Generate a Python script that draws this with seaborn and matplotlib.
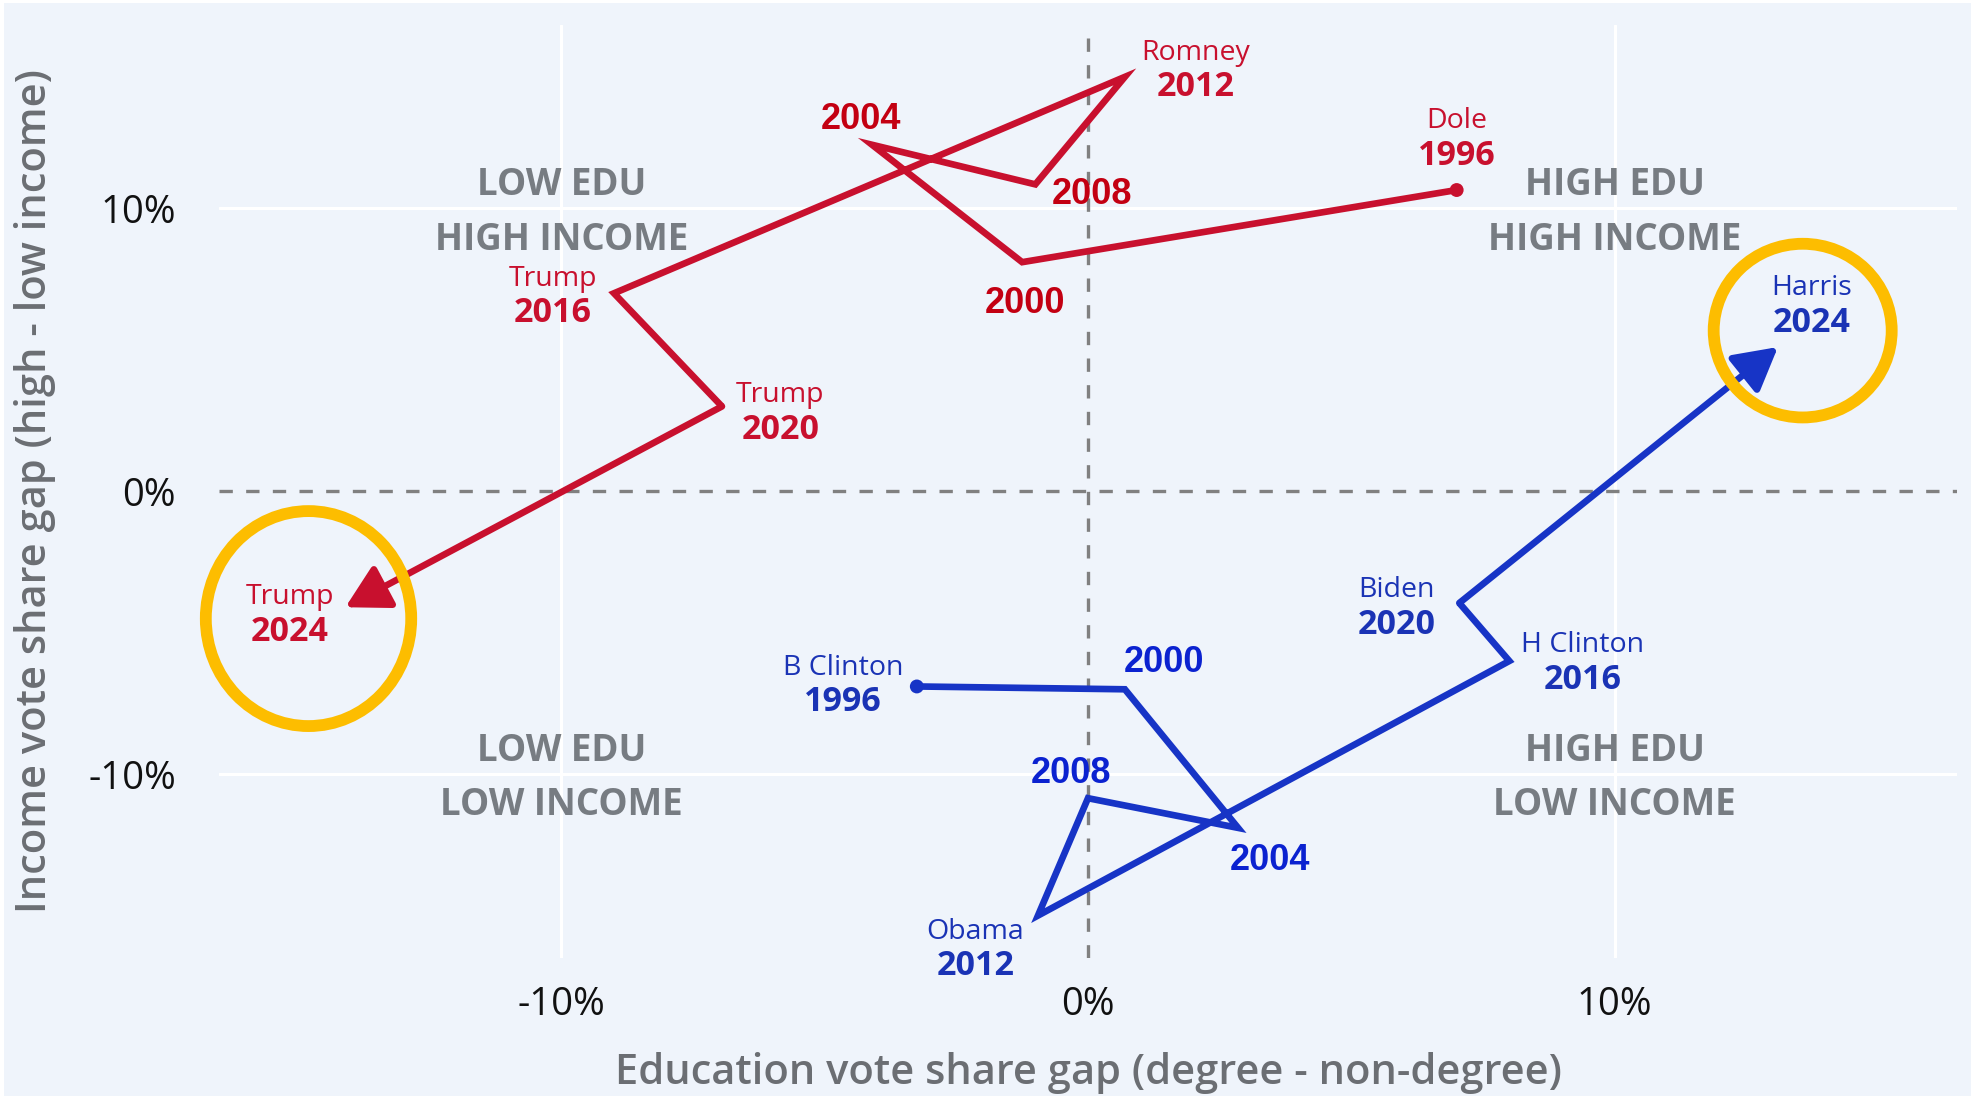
import matplotlib
matplotlib.use('Agg')
import matplotlib.pyplot as plt
from matplotlib.patches import Ellipse, Rectangle
from matplotlib.ticker import FuncFormatter
import pandas as pd
import seaborn as sns

# ---- data: vote share gaps in percentage points ----
years = [1996, 2000, 2004, 2008, 2012, 2016, 2020, 2024]

rep_edu = [7.0, -1.25, -4.1, -1.0, 0.7, -9.0, -6.95, -14.1]
rep_inc = [10.65, 8.1, 12.25, 10.85, 14.65, 7.0, 3.0, -4.1]
rep_names = ['Dole', '', '', '', 'Romney', 'Trump', 'Trump', 'Trump']

dem_edu = [-3.25, 0.7, 2.85, 0.0, -0.95, 8.0, 7.05, 13.1]
dem_inc = [-6.9, -7.0, -11.9, -10.85, -15.0, -6.0, -3.95, 5.1]
dem_names = ['B Clinton', '', '', '', 'Obama', 'H Clinton', 'Biden', 'Harris']

tick_vals = [-10, 0, 10]

quadrant_text = [('LOW EDU', 'HIGH INCOME'), ('HIGH EDU', 'HIGH INCOME'),
                 ('LOW EDU', 'LOW INCOME'), ('HIGH EDU', 'LOW INCOME')]

# ---- layout / style ----
quadrant_at = [(-10, 10), (10, 10), (-10, -10), (10, -10)]
# offset (points) of the year label from its point; name sits above it
rep_off = [(0, 24.5), (2, -30), (-8, 18), (41, -7), (51, -7.5), (-44, -14.5), (42, -17), (-40, -17.5)]
dem_off = [(-53, -11.5), (28, 19.5), (23, -23.5), (-12, 18), (-45, -36.5), (53, -13.5), (-45, -15.5), (24, 17.5)]
# yellow highlight rings: centre x, centre y, width, height (data units)
rings = [(-14.8, -4.5, 3.9, 7.6), (13.57, 5.68, 3.38, 6.14)]

RED, RED_YR = '#c8102e', '#c30012'
BLUE, BLUE_TXT, BLUE_YR = '#1734c6', '#1a33b5', '#0b22d0'
GRAY_Q = '#777c82'
BG = '#eff4fb'
RING = '#fdbd00'
FONT = 'Open Sans'

sns.set_theme(style='white')
plt.rcParams['font.family'] = [FONT, 'DejaVu Sans']

df = pd.DataFrame({
    'year': years * 2,
    'edu': rep_edu + dem_edu,
    'inc': rep_inc + dem_inc,
    'party': ['R'] * len(years) + ['D'] * len(years),
})
palette = {'R': RED, 'D': BLUE}

fig = plt.figure(figsize=(19.71, 10.96), dpi=100)
fig.patch.set_facecolor(BG)
ax = fig.add_axes([0.1111, 0.1259, 0.8818, 0.8517])
ax.set_facecolor(BG)

# grid
for v in [-10, 10]:
    ax.axvline(v, color='white', lw=2.2, zorder=0)
    ax.axhline(v, color='white', lw=2.2, zorder=0)
ax.axvline(0, color='#808080', lw=2.4, ls=(0, (4, 4)), zorder=1)
ax.axhline(0, color='#808080', lw=2.4, ls=(0, (4, 4)), zorder=1)

# quadrant labels
for (top, bottom), (qx, qy) in zip(quadrant_text, quadrant_at):
    ax.annotate(top, (qx, qy), xytext=(0, 16.5), textcoords='offset points',
                ha='center', va='center', fontsize=26.5, fontweight='bold', color=GRAY_Q, zorder=2)
    ax.annotate(bottom, (qx, qy), xytext=(0, -22.5), textcoords='offset points',
                ha='center', va='center', fontsize=26.5, fontweight='bold', color=GRAY_Q, zorder=2)

# paths up to 2020, final leg drawn as an arrow
body = df[df['year'] < years[-1]]
sns.lineplot(data=body, x='edu', y='inc', hue='party', palette=palette, sort=False,
             estimator=None, lw=4.8, legend=False, ax=ax, zorder=3,
             solid_joinstyle='miter', solid_capstyle='butt')
sns.scatterplot(data=df[df['year'] == years[0]], x='edu', y='inc', hue='party',
                palette=palette, s=100, edgecolor='none', legend=False, ax=ax, zorder=4)

for party, col in palette.items():
    sub = df[df['party'] == party]
    p0 = (sub['edu'].iloc[-2], sub['inc'].iloc[-2])
    p1 = (sub['edu'].iloc[-1], sub['inc'].iloc[-1])
    ax.annotate('', xy=p1, xytext=p0,
                arrowprops=dict(arrowstyle='-|>,head_length=1.3,head_width=0.72',
                                mutation_scale=20, lw=4.8, color=col,
                                shrinkA=0, shrinkB=0),
                zorder=3)

# point labels
def label_points(edu, inc, names, offs, name_col, yr_col):
    for x, y, yr, nm, (dx, dy) in zip(edu, inc, years, names, offs):
        if nm:
            ax.annotate(nm, (x, y), xytext=(dx, dy + 25), textcoords='offset points',
                        ha='center', va='center', fontsize=20.5, fontweight='medium',
                        color=name_col, zorder=6)
            ax.annotate(str(yr), (x, y), xytext=(dx, dy), textcoords='offset points',
                        ha='center', va='center', fontsize=24.5, fontweight='bold',
                        color=name_col, zorder=6)
        else:
            ax.annotate(str(yr), (x, y), xytext=(dx, dy), textcoords='offset points',
                        ha='center', va='center', fontsize=26, fontweight='bold',
                        family='Liberation Sans', color=yr_col, zorder=6)

label_points(rep_edu, rep_inc, rep_names, rep_off, RED, RED_YR)
label_points(dem_edu, dem_inc, dem_names, dem_off, BLUE_TXT, BLUE_YR)

# highlight rings
for cx, cy, w, h in rings:
    ax.add_patch(Ellipse((cx, cy), w, h, fill=False, ec=RING, lw=8.5, zorder=5,
                         clip_on=False))

# axes
ax.set_xlim(-16.5, 16.5)
ax.set_ylim(-16.5, 16.5)
ax.set_xticks(tick_vals)
ax.set_yticks(tick_vals)
pct = FuncFormatter(lambda v, p: f'{v:.0f}%')
ax.xaxis.set_major_formatter(pct)
ax.yaxis.set_major_formatter(pct)
ax.tick_params(axis='both', length=0, labelsize=27.5, colors='#111111')
ax.tick_params(axis='x', pad=20)
ax.tick_params(axis='y', pad=31)
for s in ax.spines.values():
    s.set_visible(False)

ax.set_xlabel('Education vote share gap (degree - non-degree)', fontsize=30,
              fontweight='semibold', color='#6b6e73')
ax.set_ylabel('Income vote share gap (high - low income)', fontsize=30,
              fontweight='semibold', color='#6b6e73')
ax.xaxis.set_label_coords(0.5, -0.1232)
ax.xaxis.label.set_va('center')
ax.yaxis.set_label_coords(-0.106, 0.5)
ax.yaxis.label.set_va('center')

# thin white frame on the left and top edge
fig.add_artist(Rectangle((0, 0), 4 / 1971, 1, transform=fig.transFigure, color='white', lw=0))
fig.add_artist(Rectangle((0, 1 - 3 / 1096), 1, 3 / 1096, transform=fig.transFigure, color='white', lw=0))

fig.savefig('out.png', dpi=100, facecolor=fig.get_facecolor())
